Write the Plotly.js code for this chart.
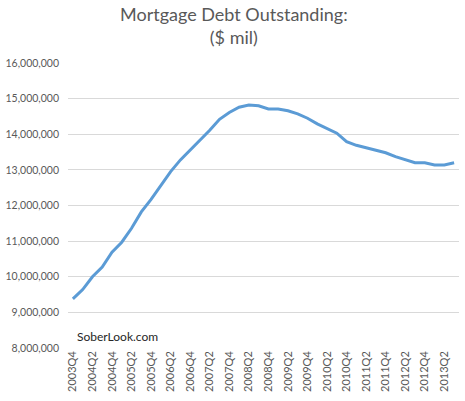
<!DOCTYPE html>
<html>
<head>
<meta charset="utf-8">
<script src="https://cdn.plot.ly/plotly-3.0.1.min.js"></script>
<style>html,body{margin:0;padding:0;background:#fff;}#chart{width:465px;height:401px;}</style>
</head>
<body>
<div id="chart"></div>
<script>
const quarters = ["2003Q4",
  "2004Q1","2004Q2","2004Q3","2004Q4",
  "2005Q1","2005Q2","2005Q3","2005Q4",
  "2006Q1","2006Q2","2006Q3","2006Q4",
  "2007Q1","2007Q2","2007Q3","2007Q4",
  "2008Q1","2008Q2","2008Q3","2008Q4",
  "2009Q1","2009Q2","2009Q3","2009Q4",
  "2010Q1","2010Q2","2010Q3","2010Q4",
  "2011Q1","2011Q2","2011Q3","2011Q4",
  "2012Q1","2012Q2","2012Q3","2012Q4",
  "2013Q1","2013Q2","2013Q3"];
const debt = [9380000,
  9640000,10000000,10270000,10690000,
  10970000,11360000,11820000,12170000,
  12560000,12950000,13280000,13560000,
  13840000,14110000,14420000,14610000,
  14760000,14820000,14800000,14710000,
  14710000,14660000,14570000,14450000,
  14290000,14150000,14030000,13790000,
  13690000,13620000,13540000,13480000,
  13370000,13280000,13200000,13200000,
  13140000,13140000,13200000];
const tickLabels = quarters.filter((q, i) => i % 2 === 0);
const titleText = "Mortgage Debt Outstanding:<br>($ mil)";
const sourceText = "SoberLook.com";

const font = "Lato, 'Open Sans', 'Liberation Sans', sans-serif";

Plotly.newPlot("chart", [{
  x: quarters,
  y: debt,
  type: "scatter",
  mode: "lines",
  line: {color: "#5B9BD5", width: 3},
  hoverinfo: "x+y"
}], {
  width: 465,
  height: 401,
  margin: {l: 68, r: 6, t: 63, b: 53},
  paper_bgcolor: "#ffffff",
  plot_bgcolor: "#ffffff",
  showlegend: false,
  xaxis: {
    type: "category",
    tickmode: "array",
    tickvals: tickLabels,
    ticktext: tickLabels,
    tickangle: -90,
    tickfont: {family: font, size: 11, color: "#595959"},
    showgrid: false,
    zeroline: false,
    showline: false,
    ticks: "",
    range: [-0.5, quarters.length - 0.5],
    fixedrange: true
  },
  yaxis: {
    range: [8000000, 16000000],
    dtick: 1000000,
    tickformat: ",d",
    tickfont: {family: font, size: 10.5, color: "#595959"},
    ticklabelstandoff: 8,
    gridcolor: "#d9d9d9",
    gridwidth: 1,
    zeroline: false,
    showline: false,
    ticks: "",
    fixedrange: true
  },
  annotations: [{
    text: titleText,
    xref: "paper", yref: "paper",
    x: 0.425, y: 1.13,
    xanchor: "center", yanchor: "middle",
    showarrow: false,
    font: {family: font, size: 18, color: "#595959"}
  }, {
    text: sourceText,
    xref: "paper", yref: "paper",
    x: 0.018, y: 0.0,
    xanchor: "left", yanchor: "bottom",
    yshift: 2,
    showarrow: false,
    font: {family: font, size: 12, color: "#262626"}
  }]
}, {staticPlot: true});
</script>
</body>
</html>
